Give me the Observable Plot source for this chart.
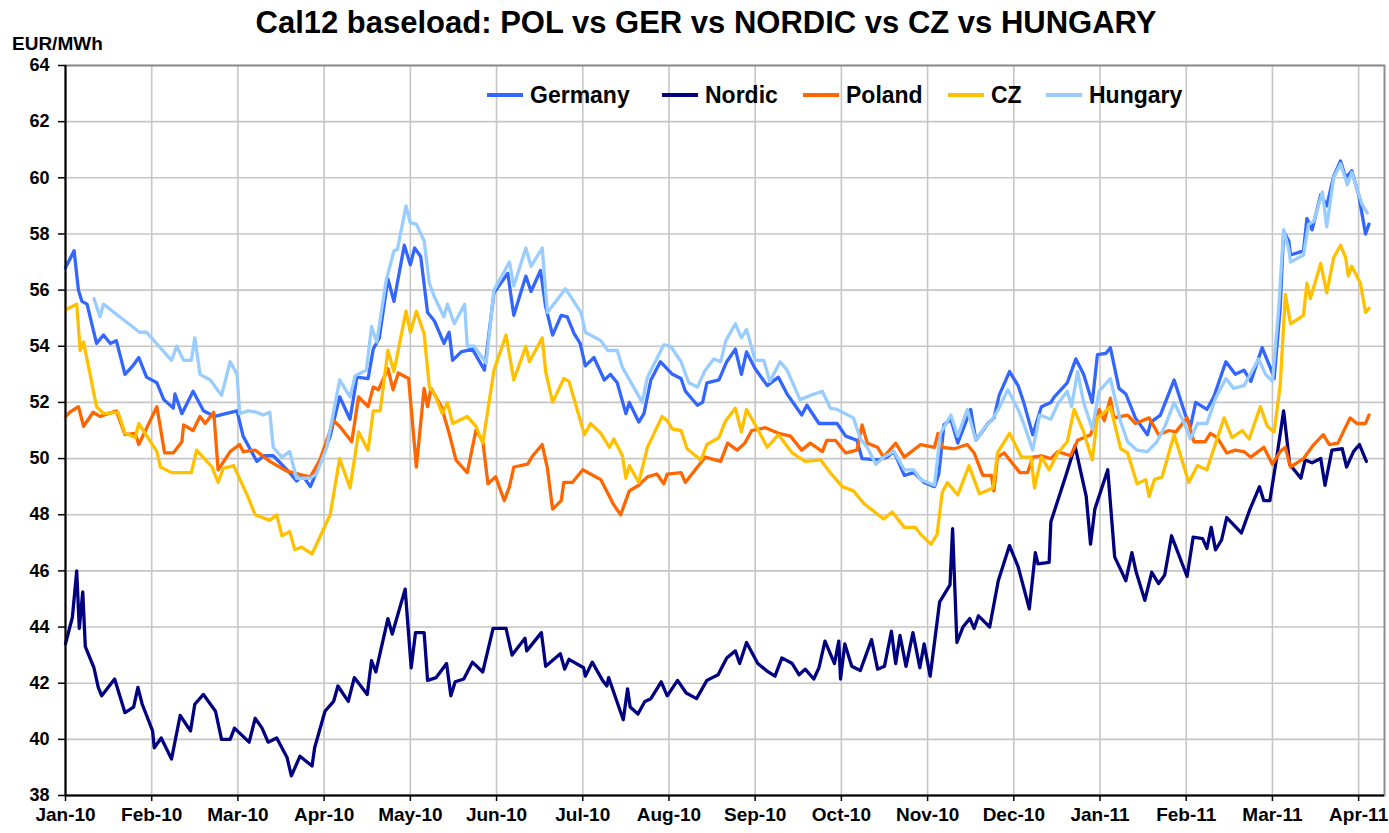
<!DOCTYPE html>
<html>
<head>
<meta charset="utf-8">
<script src="https://cdn.jsdelivr.net/npm/d3@7"></script>
<script src="https://cdn.jsdelivr.net/npm/@observablehq/plot@0.6"></script>
<style>
  body { margin: 0; background: #fff; font-family: "Liberation Sans", Arial, sans-serif; }
  #wrap { position: relative; width: 1389px; height: 833px; overflow: hidden; background: #fff; }
  #head { height: 40px; }
  #title { position: absolute; top: 7px; left: 706px; transform: translateX(-50%); white-space: nowrap;
           font-weight: bold; font-size: 31px; line-height: 31px; color: #000; }
  #unit { position: absolute; left: 12px; top: 34px; font-weight: bold; font-size: 19px; line-height: 19px; color: #000; }
  .item { position: absolute; top: 83px; height: 24px; display: flex; align-items: center;
          font-weight: bold; font-size: 23px; color: #000; white-space: nowrap; }
  .sw { width: 36px; height: 4px; margin-right: 7px; }
  svg text { font-weight: bold; }
</style>
</head>
<body>
<div id="wrap">
  <div id="head"></div>
  <div id="title">Cal12 baseload: POL vs GER vs NORDIC vs CZ vs HUNGARY</div>
  <div id="unit">EUR/MWh</div>
  <div id="chart"></div>
  <div id="legend"></div>
</div>
<script>
// x = months since the start of Jan 2010 (Excel monthly category axis), y = EUR/MWh
const monthLabels = ["Jan-10","Feb-10","Mar-10","Apr-10","May-10","Jun-10","Jul-10","Aug-10",
                     "Sep-10","Oct-10","Nov-10","Dec-10","Jan-11","Feb-11","Mar-11","Apr-11"];
const yTicks = [38,40,42,44,46,48,50,52,54,56,58,60,62,64];

const germany = [[0,56.8],[0.1,57.4],[0.15,56.0],[0.19,55.6],[0.25,55.5],[0.36,54.1],[0.44,54.4],[0.52,54.1],[0.59,54.2],[0.69,53.0],[0.78,53.3],[0.85,53.6],[0.94,52.9],[1.06,52.7],[1.14,52.1],[1.25,51.8],[1.27,52.3],[1.35,51.6],[1.48,52.4],[1.6,51.7],[1.73,51.5],[1.99,51.7],[2.06,50.8],[2.22,49.9],[2.3,50.1],[2.41,50.1],[2.57,49.6],[2.68,49.2],[2.75,49.4],[2.84,49.0],[2.91,49.5],[3.07,50.8],[3.18,52.2],[3.3,51.4],[3.38,52.9],[3.51,52.85],[3.57,53.9],[3.64,54.3],[3.74,56.4],[3.81,55.6],[3.93,57.6],[4.0,56.9],[4.05,57.5],[4.12,57.2],[4.2,55.2],[4.28,54.9],[4.39,54.1],[4.45,54.5],[4.49,53.5],[4.59,53.8],[4.72,53.9],[4.86,53.15],[4.97,55.9],[5.13,56.6],[5.2,55.1],[5.34,56.5],[5.4,55.95],[5.51,56.7],[5.57,55.4],[5.65,54.4],[5.75,55.1],[5.82,55.05],[5.9,54.45],[5.97,54.1],[6.03,53.3],[6.13,53.6],[6.25,52.8],[6.32,53.0],[6.4,52.7],[6.5,51.6],[6.54,52.0],[6.65,51.3],[6.71,51.6],[6.79,52.8],[6.9,53.45],[7.04,53.0],[7.14,52.85],[7.19,52.4],[7.33,51.9],[7.39,52.0],[7.44,52.7],[7.58,52.8],[7.67,53.45],[7.77,53.9],[7.84,53.0],[7.9,53.8],[8.0,53.2],[8.14,52.6],[8.27,52.9],[8.37,52.3],[8.54,51.55],[8.6,51.9],[8.74,51.25],[8.95,51.25],[9.05,50.8],[9.18,50.65],[9.24,50.0],[9.42,49.95],[9.53,50.05],[9.61,50.25],[9.73,49.4],[9.84,49.5],[9.96,49.15],[10.08,49.0],[10.13,49.45],[10.19,51.2],[10.27,51.4],[10.35,50.55],[10.5,51.75],[10.56,50.65],[10.7,51.25],[10.77,51.45],[10.83,52.25],[10.95,53.1],[11.05,52.6],[11.12,51.95],[11.22,50.85],[11.32,51.85],[11.43,52.0],[11.47,52.2],[11.62,52.7],[11.72,53.55],[11.81,53.0],[11.91,52.0],[11.97,53.7],[12.07,53.75],[12.12,53.95],[12.22,52.5],[12.3,52.3],[12.41,51.45],[12.55,50.85],[12.59,51.3],[12.7,51.55],[12.86,52.8],[12.99,51.55],[13.05,51.15],[13.11,52.0],[13.24,51.75],[13.32,52.2],[13.46,53.45],[13.57,53.0],[13.67,53.15],[13.75,52.75],[13.88,53.95],[13.98,53.2],[14.02,52.85],[14.09,55.35],[14.13,58.1],[14.19,57.75],[14.21,57.25],[14.36,57.4],[14.4,58.55],[14.46,58.15],[14.56,59.4],[14.63,59.0],[14.71,60.05],[14.79,60.6],[14.85,60.0],[14.92,60.25],[15.0,59.4],[15.08,58.0],[15.12,58.35]];

const nordic = [[0,43.4],[0.08,44.35],[0.13,46.0],[0.16,43.95],[0.2,45.25],[0.23,43.3],[0.33,42.55],[0.38,41.85],[0.42,41.55],[0.57,42.15],[0.69,40.95],[0.79,41.15],[0.84,41.85],[0.89,41.25],[1.01,40.3],[1.03,39.7],[1.11,40.05],[1.23,39.3],[1.33,40.85],[1.45,40.3],[1.5,41.25],[1.6,41.6],[1.74,41.0],[1.81,40.0],[1.91,40.0],[1.96,40.4],[2.13,39.9],[2.2,40.75],[2.28,40.4],[2.35,39.9],[2.45,40.05],[2.57,39.35],[2.62,38.7],[2.72,39.4],[2.86,39.05],[2.89,39.7],[3.01,41.0],[3.11,41.35],[3.16,41.9],[3.28,41.35],[3.35,42.2],[3.5,41.6],[3.55,42.8],[3.6,42.4],[3.74,44.3],[3.79,43.75],[3.94,45.35],[4.01,42.55],[4.06,43.8],[4.16,43.8],[4.2,42.1],[4.3,42.2],[4.42,42.7],[4.47,41.55],[4.52,42.05],[4.62,42.15],[4.72,42.75],[4.84,42.4],[4.96,43.95],[5.11,43.95],[5.18,43.0],[5.33,43.6],[5.35,43.15],[5.52,43.8],[5.57,42.6],[5.74,43.05],[5.79,42.5],[5.84,42.85],[6.01,42.55],[6.03,42.25],[6.11,42.75],[6.23,42.1],[6.28,41.9],[6.3,42.2],[6.47,40.7],[6.52,41.8],[6.55,41.15],[6.64,40.9],[6.72,41.35],[6.79,41.45],[6.91,42.05],[6.98,41.55],[7.1,42.1],[7.2,41.65],[7.32,41.45],[7.44,42.1],[7.57,42.3],[7.67,42.9],[7.77,43.15],[7.82,42.7],[7.9,43.45],[8.03,42.7],[8.13,42.45],[8.23,42.25],[8.31,42.9],[8.43,42.7],[8.51,42.3],[8.58,42.5],[8.68,42.15],[8.74,42.55],[8.81,43.5],[8.92,42.7],[8.97,43.5],[8.99,42.15],[9.04,43.4],[9.12,42.6],[9.22,42.45],[9.35,43.55],[9.42,42.5],[9.5,42.6],[9.58,43.85],[9.63,42.7],[9.68,43.7],[9.75,42.6],[9.83,43.8],[9.91,42.55],[9.96,43.4],[10.03,42.25],[10.14,44.9],[10.26,45.5],[10.29,47.5],[10.34,43.45],[10.41,44.0],[10.49,44.3],[10.54,43.95],[10.59,44.4],[10.72,44.0],[10.82,45.65],[10.95,46.9],[11.05,46.15],[11.18,44.65],[11.25,46.65],[11.28,46.25],[11.41,46.3],[11.43,47.75],[11.61,49.45],[11.71,50.45],[11.84,48.65],[11.89,46.95],[11.94,48.2],[12.09,49.6],[12.17,46.5],[12.3,45.65],[12.37,46.65],[12.42,45.95],[12.52,44.95],[12.6,45.95],[12.68,45.55],[12.75,45.85],[12.83,47.25],[13.01,45.8],[13.08,47.2],[13.19,47.15],[13.24,46.8],[13.29,47.55],[13.34,46.75],[13.41,47.1],[13.47,47.9],[13.64,47.35],[13.74,48.2],[13.85,49.0],[13.9,48.5],[13.97,48.5],[14.05,50.05],[14.13,51.7],[14.2,49.8],[14.33,49.3],[14.38,49.95],[14.46,49.85],[14.56,50.0],[14.61,49.05],[14.69,50.3],[14.81,50.35],[14.86,49.7],[14.94,50.25],[15.01,50.5],[15.09,49.9]];

const poland = [[0,51.5],[0.05,51.65],[0.15,51.85],[0.21,51.15],[0.32,51.65],[0.4,51.5],[0.59,51.7],[0.69,50.85],[0.81,50.9],[0.85,50.5],[1.06,51.85],[1.15,50.2],[1.25,50.2],[1.35,50.6],[1.37,51.2],[1.48,51.0],[1.56,51.5],[1.62,51.25],[1.72,51.65],[1.77,49.6],[1.91,50.25],[2.02,50.5],[2.06,50.25],[2.2,50.3],[2.37,49.9],[2.57,49.55],[2.76,49.4],[2.84,49.35],[2.95,49.95],[3.11,51.35],[3.18,51.15],[3.32,50.6],[3.4,52.2],[3.51,51.85],[3.57,52.55],[3.63,52.45],[3.74,53.2],[3.8,52.45],[3.86,53.05],[3.98,52.85],[4.07,49.7],[4.16,52.5],[4.2,51.85],[4.24,52.5],[4.36,51.85],[4.45,50.9],[4.53,49.95],[4.66,49.5],[4.76,51.0],[4.84,50.65],[4.9,49.1],[4.99,49.35],[5.09,48.5],[5.15,49.0],[5.2,49.7],[5.36,49.8],[5.42,50.1],[5.53,50.5],[5.59,49.65],[5.65,48.2],[5.75,48.5],[5.78,49.15],[5.88,49.15],[6.0,49.6],[6.09,49.45],[6.21,49.25],[6.31,48.65],[6.36,48.35],[6.44,48.0],[6.54,48.85],[6.65,49.05],[6.75,49.35],[6.86,49.45],[6.94,49.1],[6.98,49.45],[7.14,49.5],[7.19,49.15],[7.33,49.7],[7.42,50.05],[7.6,49.9],[7.68,50.55],[7.79,50.3],[7.88,50.55],[7.96,51.0],[8.12,51.1],[8.27,50.9],[8.41,50.8],[8.54,50.3],[8.64,50.55],[8.78,50.25],[8.83,50.65],[8.93,50.65],[9.05,50.2],[9.18,50.3],[9.24,51.2],[9.3,50.55],[9.42,50.4],[9.49,50.05],[9.63,50.55],[9.73,50.05],[9.92,50.5],[10.08,50.4],[10.12,50.9],[10.17,50.4],[10.31,50.35],[10.46,50.5],[10.54,50.2],[10.64,49.4],[10.74,49.4],[10.77,48.85],[10.81,50.05],[10.89,50.2],[11.07,49.5],[11.16,49.5],[11.22,50.05],[11.32,50.1],[11.43,50.0],[11.51,50.25],[11.66,50.1],[11.74,50.65],[11.89,50.85],[11.99,51.75],[12.05,51.35],[12.12,52.15],[12.16,51.45],[12.32,51.55],[12.41,51.25],[12.57,51.45],[12.68,50.85],[12.8,51.0],[12.88,50.95],[13.01,51.45],[13.09,50.6],[13.22,50.6],[13.28,50.9],[13.36,50.75],[13.47,50.2],[13.57,50.3],[13.67,50.25],[13.75,50.05],[13.9,50.4],[14.0,49.8],[14.09,50.25],[14.15,50.4],[14.21,49.7],[14.36,50.0],[14.48,50.5],[14.59,50.85],[14.66,50.5],[14.76,50.55],[14.9,51.45],[14.98,51.25],[15.08,51.25],[15.12,51.55]];

const cz = [[0,55.3],[0.13,55.5],[0.17,53.85],[0.21,54.15],[0.36,51.85],[0.44,51.6],[0.61,51.65],[0.69,50.9],[0.81,50.75],[0.85,51.25],[1.06,50.25],[1.1,49.7],[1.23,49.5],[1.46,49.5],[1.52,50.3],[1.7,49.7],[1.77,49.15],[1.83,49.65],[1.95,49.75],[2.1,48.75],[2.2,48.0],[2.37,47.8],[2.45,48.0],[2.51,47.25],[2.6,47.4],[2.66,46.75],[2.74,46.85],[2.86,46.6],[3.07,48.0],[3.18,50.0],[3.3,48.95],[3.4,50.95],[3.51,50.3],[3.57,51.7],[3.65,51.7],[3.74,53.85],[3.81,53.1],[3.95,55.25],[4.0,54.5],[4.07,55.25],[4.16,54.45],[4.22,52.55],[4.28,52.3],[4.37,51.6],[4.43,52.0],[4.49,51.25],[4.66,51.5],[4.76,51.15],[4.84,50.55],[4.97,53.15],[5.11,54.4],[5.2,52.8],[5.34,54.0],[5.38,53.45],[5.53,54.3],[5.57,53.1],[5.65,52.0],[5.78,52.85],[5.84,52.75],[6.02,50.85],[6.09,51.25],[6.21,50.9],[6.31,50.4],[6.36,50.7],[6.46,50.1],[6.5,49.3],[6.54,49.75],[6.65,49.15],[6.75,50.4],[6.92,51.5],[6.98,51.35],[7.04,51.05],[7.14,51.0],[7.21,50.35],[7.37,49.95],[7.44,50.5],[7.58,50.75],[7.65,51.3],[7.77,51.8],[7.84,50.95],[7.9,51.75],[8.02,51.1],[8.14,50.4],[8.27,50.85],[8.43,50.2],[8.58,49.9],[8.76,49.95],[8.87,49.5],[9.01,49.0],[9.14,48.85],[9.26,48.4],[9.49,47.85],[9.59,48.1],[9.73,47.55],[9.86,47.55],[9.92,47.3],[10.04,46.95],[10.11,47.3],[10.17,48.8],[10.23,49.15],[10.35,48.7],[10.48,49.75],[10.6,48.75],[10.76,48.95],[10.81,50.2],[10.95,50.9],[11.09,50.05],[11.2,50.05],[11.24,48.95],[11.32,50.05],[11.41,49.6],[11.51,50.2],[11.62,50.6],[11.7,51.75],[11.81,50.95],[11.91,49.95],[11.97,51.45],[12.05,51.65],[12.12,51.85],[12.24,50.35],[12.32,50.2],[12.43,49.1],[12.53,49.25],[12.57,48.65],[12.63,49.25],[12.72,49.35],[12.86,50.85],[12.92,50.25],[13.03,49.15],[13.13,49.75],[13.24,49.6],[13.32,50.35],[13.44,51.45],[13.53,50.75],[13.65,51.0],[13.73,50.7],[13.86,51.85],[13.94,51.15],[14.02,50.95],[14.09,52.6],[14.15,55.85],[14.21,54.8],[14.36,55.1],[14.4,56.25],[14.44,55.7],[14.56,56.95],[14.63,55.9],[14.71,57.15],[14.79,57.6],[14.85,57.15],[14.88,56.5],[14.92,56.85],[15.02,56.25],[15.08,55.2],[15.12,55.35]];

const hungary = [[0.33,55.7],[0.4,55.05],[0.44,55.5],[0.65,55.0],[0.86,54.5],[0.94,54.5],[1.23,53.5],[1.29,54.0],[1.37,53.5],[1.46,53.5],[1.5,54.3],[1.56,53.0],[1.68,52.8],[1.81,52.25],[1.91,53.45],[1.99,53.0],[2.02,51.6],[2.12,51.7],[2.22,51.65],[2.29,51.55],[2.37,51.65],[2.41,50.4],[2.51,50.05],[2.6,50.25],[2.68,49.3],[2.84,49.3],[2.91,49.45],[3.03,50.4],[3.18,52.8],[3.3,52.2],[3.36,52.95],[3.49,53.15],[3.55,54.7],[3.61,54.15],[3.72,56.35],[3.81,57.4],[3.85,57.45],[3.95,59.0],[4.0,58.4],[4.07,58.35],[4.16,57.75],[4.22,56.25],[4.28,55.75],[4.39,55.05],[4.43,55.5],[4.51,54.8],[4.63,55.5],[4.66,54.0],[4.74,54.0],[4.88,53.4],[4.97,56.0],[5.15,57.0],[5.2,56.15],[5.34,57.5],[5.4,56.85],[5.53,57.5],[5.59,55.2],[5.8,56.05],[5.98,55.2],[6.03,54.5],[6.21,54.2],[6.29,53.85],[6.4,53.85],[6.46,53.25],[6.69,52.0],[6.75,52.9],[6.94,54.05],[7.02,54.0],[7.14,53.45],[7.23,52.7],[7.33,52.55],[7.42,53.15],[7.52,53.55],[7.6,53.45],[7.66,54.2],[7.77,54.8],[7.84,54.3],[7.9,54.6],[8.0,53.5],[8.1,53.5],[8.17,52.75],[8.29,53.45],[8.37,53.15],[8.52,52.1],[8.64,52.25],[8.78,52.4],[8.87,51.8],[8.95,51.75],[9.14,51.45],[9.22,50.7],[9.3,50.4],[9.4,49.8],[9.49,50.05],[9.61,50.25],[9.73,49.6],[9.84,49.6],[9.92,49.25],[10.08,49.05],[10.15,50.9],[10.27,51.55],[10.35,50.8],[10.46,51.75],[10.56,50.65],[10.66,51.1],[10.74,51.35],[10.82,51.75],[10.93,52.45],[11.05,51.75],[11.12,51.2],[11.22,50.3],[11.3,51.55],[11.43,51.4],[11.51,51.95],[11.62,52.4],[11.67,51.85],[11.74,53.1],[11.81,52.0],[11.91,51.05],[11.99,52.4],[12.12,52.85],[12.24,51.3],[12.32,50.6],[12.43,50.3],[12.55,50.25],[12.66,50.6],[12.76,51.2],[12.86,52.0],[12.97,51.3],[13.05,50.7],[13.13,51.25],[13.24,51.25],[13.34,52.15],[13.46,52.85],[13.55,52.5],[13.67,52.6],[13.76,53.1],[13.84,53.55],[13.92,53.0],[14.0,52.75],[14.07,55.25],[14.13,58.15],[14.19,57.45],[14.21,57.0],[14.36,57.25],[14.42,58.35],[14.48,58.45],[14.58,59.5],[14.63,58.25],[14.71,60.0],[14.79,60.5],[14.87,59.75],[14.92,60.2],[15.04,59.05],[15.1,58.75]];

const seriesNames = ["Germany","Nordic","Poland","CZ","Hungary"];
const seriesColors = ["#3366FF","#000080","#FF6600","#FFC000","#99CCFF"];
const seriesData = [germany, nordic, poland, cz, hungary];

const rows = seriesData.map(s => s.map(([t, v]) => ({t, v})));

const chart = Plot.plot({
  width: 1389,
  height: 793,
  marginTop: 25,
  marginBottom: 38,
  marginLeft: 65,
  marginRight: 5,
  style: { fontFamily: "Liberation Sans, Arial, sans-serif", fontWeight: "bold", color: "#000", background: "#fff", overflow: "visible" },
  x: { type: "linear", domain: [0, 15.3], label: null },
  y: { domain: [38, 64], label: null },
  marks: [
    Plot.gridX(d3.range(monthLabels.length), { stroke: "#c6c6c6", strokeOpacity: 1, strokeWidth: 1.6 }),
    Plot.gridY(yTicks, { stroke: "#c6c6c6", strokeOpacity: 1, strokeWidth: 1.6 }),
    Plot.frame({ stroke: "#8c8c8c", strokeWidth: 2 }),
    ...rows.map((r, i) => Plot.line(r, { x: "t", y: "v", stroke: seriesColors[i], strokeWidth: 3.3, strokeLinejoin: "round", strokeLinecap: "round" })),
    Plot.ruleX([0], { stroke: "#000", strokeWidth: 2 }),
    Plot.ruleY([38], { stroke: "#000", strokeWidth: 2 }),
    Plot.axisY(yTicks, { label: null, tickSize: 7, tickPadding: 9, fontSize: 18, fontWeight: "bold", strokeWidth: 1.5 }),
    Plot.axisX(d3.range(monthLabels.length), { label: null, tickSize: 6, tickPadding: 6, fontSize: 19, fontWeight: "bold", strokeWidth: 1.5, tickFormat: i => monthLabels[i] })
  ]
});
document.getElementById("chart").appendChild(chart);

// legend (inside plot area, top)
const legendLefts = [487, 662, 803, 948, 1046];
const legend = document.getElementById("legend");
seriesNames.forEach((name, i) => {
  const item = document.createElement("div");
  item.className = "item";
  item.style.left = legendLefts[i] + "px";
  const sw = document.createElement("span");
  sw.className = "sw";
  sw.style.background = seriesColors[i];
  const label = document.createElement("span");
  label.textContent = name;
  item.appendChild(sw);
  item.appendChild(label);
  legend.appendChild(item);
});
</script>
</body>
</html>
